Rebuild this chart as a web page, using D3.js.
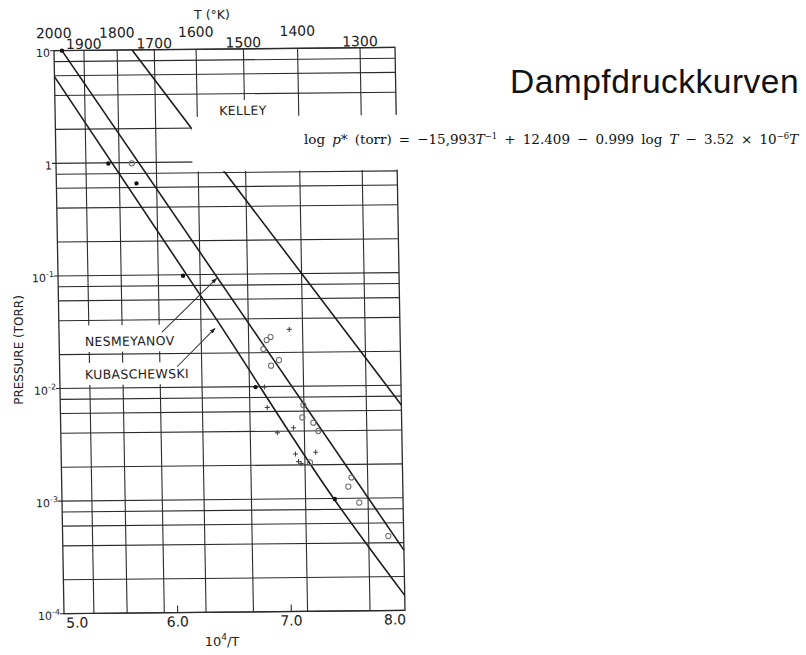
<!DOCTYPE html>
<html><head><meta charset="utf-8">
<script src="https://cdn.jsdelivr.net/npm/d3@7"></script>
<style>
html,body{margin:0;padding:0;background:#fff;}
svg{display:block;}
</style></head>
<body>
<svg id="chart" width="806" height="655"></svg>
<script>
// Temperature scale along the top (K); placed at 10^4/T
const topTemps = [2000, 1900, 1800, 1700, 1600, 1500, 1400, 1300];
// Reciprocal-temperature ticks along the bottom
const bottomTicks = [5.0, 6.0, 7.0, 8.0];
// Pressure decades and intermediate rulings (torr)
const decades = [1e-4, 1e-3, 1e-2, 1e-1, 1, 10];
const rulings = [2, 4, 6, 8];

// Vapour-pressure curves: 10^4/T against p (torr)
const kelleyX = [5.687, 8.0];
const kelleyP = [10, 0.00667];
const nesmeyanovX = [5.07, 8.0];
const nesmeyanovP = [10, 3.43e-4];
const kubaschewskiX = [5.0, 6.39, 7.39, 8.0];
const kubaschewskiP = [5.88, 0.0394, 0.0010, 1.36e-4];

// Measurements: filled dots
const dotX = [5.07, 5.46, 5.705, 6.10, 6.72, 7.40];
const dotP = [10, 0.986, 0.653, 0.098, 0.0099, 0.00099];
// Measurements: open circles
const ringX = [5.666, 6.826, 6.860, 6.795, 6.931, 6.860, 7.138, 7.127, 7.223, 7.265, 7.187, 7.550, 7.521, 7.615, 7.865];
const ringP = [0.985, 0.0258, 0.0275, 0.0215, 0.0171, 0.0153, 0.00679, 0.00528, 0.00472, 0.00398, 0.0021, 0.00153, 0.00127, 0.000914, 0.000459];
// Measurements: crosses
const crossX = [7.026, 6.799, 6.820, 7.048, 6.906, 7.061, 7.239, 7.087, 7.110];
const crossP = [0.032, 0.00989, 0.00652, 0.00428, 0.00387, 0.0025, 0.00258, 0.00214, 0.00205];

const W = 341, H = 563;
const svg = d3.select("#chart");
const sans = "'DejaVu Sans', sans-serif";
const ink = "#2b2b2b";

const x = d3.scaleLinear().domain([5, 8]).range([0, W]);
const y = d3.scaleLog().domain([1e-4, 10]).range([H, 0]);

// the printed sheet sits very slightly askew
const g = svg.append("g")
  .attr("transform", "matrix(1,-0.00968,0.01776,1,54,50.7)");

// horizontal rulings
const hValues = [];
decades.forEach(d => {
  hValues.push({v: d, major: true});
  if (d < 10) rulings.forEach(m => hValues.push({v: m * d, major: false}));
});
hValues.forEach(d => {
  g.append("line")
    .attr("x1", d.major ? -4 : 0).attr("x2", W)
    .attr("y1", y(d.v)).attr("y2", y(d.v))
    .attr("stroke", ink).attr("stroke-width", 1.1);
});
// vertical rulings at round temperatures
topTemps.slice(1).forEach(t => {
  g.append("line")
    .attr("x1", x(1e4 / t)).attr("x2", x(1e4 / t))
    .attr("y1", 0).attr("y2", H)
    .attr("stroke", ink).attr("stroke-width", 1.1);
});
// frame
g.append("rect").attr("x", 0).attr("y", 0).attr("width", W).attr("height", H)
  .attr("fill", "none").attr("stroke", ink).attr("stroke-width", 1.3);
// small ticks on the bottom edge
bottomTicks.slice(1, 3).forEach(t => {
  g.append("line").attr("x1", x(t)).attr("x2", x(t))
    .attr("y1", H).attr("y2", H - 7).attr("stroke", ink).attr("stroke-width", 1.1);
});

// curves
const curve = d3.line().x(d => x(d[0])).y(d => y(d[1])).curve(d3.curveMonotoneX);
[[kelleyX, kelleyP], [nesmeyanovX, nesmeyanovP], [kubaschewskiX, kubaschewskiP]].forEach(([xs, ps]) => {
  g.append("path").datum(xs.map((v, i) => [v, ps[i]]))
    .attr("d", curve).attr("fill", "none")
    .attr("stroke", "#1c1c1c").attr("stroke-width", 1.6);
});

// white panels under the lettering
function panel(x0, x1, p0, p1) {
  g.append("rect")
    .attr("x", x0).attr("width", x1 - x0)
    .attr("y", y(p0)).attr("height", y(p1) - y(p0))
    .attr("fill", "#fff");
}
panel(x(6.2), W + 40, 2.51, 0.822);
panel(x(6.42), x(6.90), 3.52, 2.51);
panel(1.5, x(6.13), 0.0361, 0.0210);
panel(1.5, x(6.13), 0.01675, 0.01069);

// measured points
dotX.forEach((v, i) => {
  g.append("circle").attr("cx", x(v)).attr("cy", y(dotP[i])).attr("r", 2.2).attr("fill", "#111");
});
ringX.forEach((v, i) => {
  g.append("circle").attr("cx", x(v)).attr("cy", y(ringP[i])).attr("r", 2.6)
    .attr("fill", "none").attr("stroke", "#6a6a6a").attr("stroke-width", 1);
});
crossX.forEach((v, i) => {
  g.append("path").attr("transform", `translate(${x(v)},${y(crossP[i])})`)
    .attr("d", "M-2.5,0H2.5M0,-2.5V2.5").attr("stroke", "#444").attr("stroke-width", 1.1);
});

// arrows from the names to their curves
svg.append("defs").append("marker")
  .attr("id", "head").attr("viewBox", "0 0 10 10").attr("refX", 9).attr("refY", 5)
  .attr("markerWidth", 6).attr("markerHeight", 6).attr("orient", "auto")
  .append("path").attr("d", "M0,1.5L10,5L0,8.5Z").attr("fill", "#222");
[[5.906, 0.0311, 6.395, 0.0922], [6.033, 0.01524, 6.373, 0.0332]].forEach(a => {
  g.append("line").attr("x1", x(a[0])).attr("y1", y(a[1]))
    .attr("x2", x(a[2])).attr("y2", y(a[3]))
    .attr("stroke", "#333").attr("stroke-width", 1).attr("marker-end", "url(#head)");
});

// curve names
const nameStyle = s => s.attr("font-family", sans).attr("font-size", 12.5)
  .attr("letter-spacing", 0.3).attr("fill", "#222");
g.append("text").attr("x", x(6.652)).attr("y", y(2.59)).attr("text-anchor", "middle")
  .text("KELLEY").call(nameStyle);
g.append("text").attr("x", x(5.226)).attr("y", y(0.0237)).text("NESMEYANOV").call(nameStyle);
g.append("text").attr("x", x(5.222)).attr("y", y(0.01208)).text("KUBASCHEWSKI").call(nameStyle);

// pressure labels
decades.forEach(d => {
  const t = g.append("text").attr("x", -4).attr("y", y(d) + 6)
    .attr("text-anchor", "end").attr("font-family", sans).attr("font-size", 11).attr("fill", "#222");
  const e = Math.round(Math.log10(d));
  if (e === 0) t.text("1");
  else if (e === 1) t.text("10");
  else {
    t.append("tspan").text("10");
    t.append("tspan").attr("dy", -5).attr("font-size", 8).text(String(e));
  }
});

// temperature labels, staggered
topTemps.forEach((t, i) => {
  g.append("text").attr("x", x(1e4 / t)).attr("y", i % 2 === 0 ? -12.5 : -1.5)
    .attr("text-anchor", "middle").attr("font-family", sans).attr("font-size", 14)
    .attr("fill", "#222").text(t);
});

// reciprocal temperature labels
bottomTicks.forEach((t, i) => {
  g.append("text").attr("x", i === 0 ? 2 : (i === bottomTicks.length - 1 ? W + 1 : x(t)))
    .attr("y", H + 14)
    .attr("text-anchor", i === 0 ? "start" : (i === bottomTicks.length - 1 ? "end" : "middle"))
    .attr("font-family", sans).attr("font-size", 14).attr("fill", "#222")
    .text(t.toFixed(1));
});

// axis titles
svg.append("text").attr("x", 212).attr("y", 19).attr("text-anchor", "middle")
  .attr("font-family", sans).attr("font-size", 12.5).attr("fill", "#222").text("T (°K)");
const xt = svg.append("text").attr("x", 222).attr("y", 646).attr("text-anchor", "middle")
  .attr("font-family", sans).attr("font-size", 13).attr("fill", "#222");
xt.append("tspan").text("10");
xt.append("tspan").attr("dy", -6).attr("font-size", 9).text("4");
xt.append("tspan").attr("dy", 6).text("/T");
svg.append("text").attr("transform", "translate(23,350) rotate(-90)")
  .attr("text-anchor", "middle").attr("font-family", sans).attr("font-size", 12)
  .attr("fill", "#222").text("PRESSURE (TORR)");

// heading and vapour-pressure equation
svg.append("text").attr("x", 510).attr("y", 93)
  .attr("font-family", "'Liberation Sans', Arial, sans-serif").attr("font-size", 33.5)
  .attr("letter-spacing", 0.5).attr("fill", "#111").text("Dampfdruckkurven");

const eq = svg.append("text").attr("x", 304).attr("y", 144)
  .attr("font-family", "'DejaVu Serif', serif").attr("font-size", 13.5)
  .attr("word-spacing", 2.8).attr("fill", "#111");
eq.append("tspan").text("log ");
eq.append("tspan").attr("font-style", "italic").text("p");
eq.append("tspan").text("* (torr) = −15,993");
eq.append("tspan").attr("font-style", "italic").text("T");
eq.append("tspan").attr("dy", -5).attr("font-size", 8.5).text("−1");
eq.append("tspan").attr("dy", 5).text(" + 12.409 − 0.999 log ");
eq.append("tspan").attr("font-style", "italic").text("T");
eq.append("tspan").text(" − 3.52 × 10");
eq.append("tspan").attr("dy", -5).attr("font-size", 8.5).text("−6");
eq.append("tspan").attr("dy", 5).attr("font-style", "italic").text("T");
</script>
</body></html>
